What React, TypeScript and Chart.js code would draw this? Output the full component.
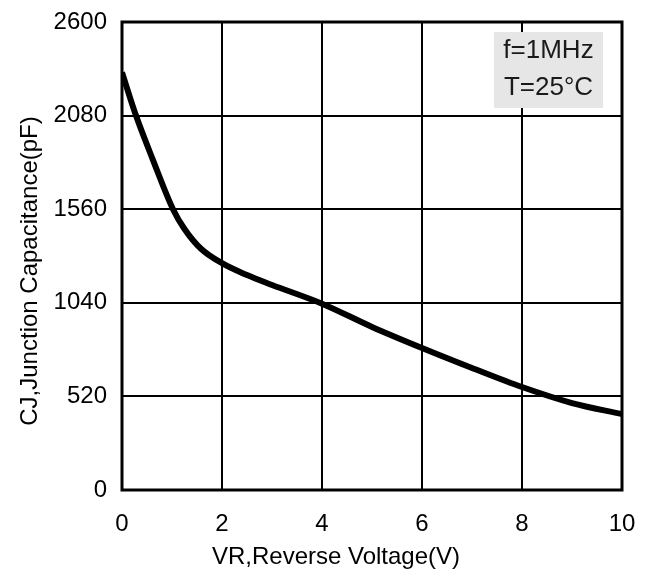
import React, { useEffect, useRef } from "react";
import { Chart, registerables } from "chart.js";

Chart.register(...registerables);

const voltage = [0, 0.28, 0.62, 1.02, 1.25, 1.58, 2, 2.5, 3, 4, 5, 6, 7, 8, 9, 10];
const capacitance = [2320, 2080, 1833, 1560, 1450, 1340, 1260, 1194, 1139, 1035, 906, 789, 678, 572, 483, 422];
const xTicks = [0, 2, 4, 6, 8, 10];
const yTicks = [0, 520, 1040, 1560, 2080, 2600];
const noteLines = ["f=1MHz", "T=25°C"];
const xTitle = "VR,Reverse Voltage(V)";
const yTitle = "CJ,Junction Capacitance(pF)";

const FONT = "'Liberation Sans', Arial, sans-serif";

const framePlugin = {
  id: "frameAndNote",
  afterDatasetsDraw(chart: any) {
    const { ctx, chartArea } = chart;
    ctx.save();
    ctx.strokeStyle = "#000";
    ctx.lineWidth = 3;
    ctx.strokeRect(chartArea.left, chartArea.top, chartArea.right - chartArea.left, chartArea.bottom - chartArea.top);
    // note box
    const bw = 109;
    const bh = 76;
    const bx = chartArea.right - 19 - bw;
    const by = chartArea.top + 10;
    ctx.fillStyle = "#e6e6e6";
    ctx.fillRect(bx, by, bw, bh);
    ctx.fillStyle = "#1a1a1a";
    ctx.font = `26px ${FONT}`;
    ctx.textAlign = "center";
    ctx.textBaseline = "middle";
    noteLines.forEach((t, i) => {
      ctx.fillText(t, bx + bw / 2, by + 19 + i * 37);
    });
    // axis titles
    ctx.fillStyle = "#000";
    ctx.font = `24px ${FONT}`;
    const cx = (chartArea.left + chartArea.right) / 2 - 36;
    ctx.fillText(xTitle, cx, chart.height - 14);
    ctx.translate(30, (chartArea.top + chartArea.bottom) / 2 + 15);
    ctx.rotate(-Math.PI / 2);
    ctx.fillText(yTitle, 0, 0);
    ctx.restore();
  },
};

export default function App() {
  const ref = useRef<HTMLCanvasElement>(null);
  useEffect(() => {
    if (!ref.current) return;
    const chart = new Chart(ref.current, {
      type: "line",
      data: {
        datasets: [
          {
            data: voltage.map((v, i) => ({ x: v, y: capacitance[i] })),
            borderColor: "#000",
            borderWidth: 6,
            pointRadius: 0,
            tension: 0.4,
            cubicInterpolationMode: "monotone",
            fill: false,
          },
        ],
      },
      options: {
        animation: false,
        responsive: true,
        maintainAspectRatio: false,
        layout: { padding: { top: 22, right: 33, left: 0, bottom: 0 } },
        plugins: { legend: { display: false }, tooltip: { enabled: false } },
        scales: {
          x: {
            type: "linear",
            min: 0,
            max: 10,
            afterBuildTicks: (scale: any) => {
              scale.ticks = xTicks.map((v) => ({ value: v }));
            },
            afterFit: (scale: any) => {
              scale.height = 81;
              scale.paddingLeft = 0;
              scale.paddingRight = 0;
            },
            grid: { color: "#000", lineWidth: 2, drawTicks: false },
            border: { display: false },
            ticks: {
              color: "#000",
              font: { family: FONT, size: 24 },
              padding: 20,
              maxRotation: 0,
              callback: (v: any) => String(v),
            },
          },
          y: {
            type: "linear",
            min: 0,
            max: 2600,
            afterBuildTicks: (scale: any) => {
              scale.ticks = yTicks.map((v) => ({ value: v }));
            },
            afterFit: (scale: any) => {
              scale.width = 122;
              scale.paddingTop = 0;
              scale.paddingBottom = 0;
            },
            grid: { color: "#000", lineWidth: 2, drawTicks: false },
            border: { display: false },
            ticks: {
              color: "#000",
              font: { family: FONT, size: 24 },
              padding: 15,
              callback: (v: any) => String(v),
            },
          },
        },
      },
      plugins: [framePlugin],
    } as any);
    return () => chart.destroy();
  }, []);
  return (
    <div style={{ position: "absolute", left: 0, top: 0, width: 655, height: 571, background: "#fff" }}>
      <canvas ref={ref} />
    </div>
  );
}
